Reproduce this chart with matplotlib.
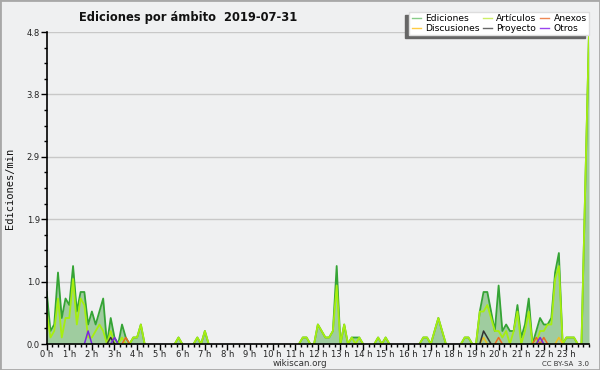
import numpy as np
import matplotlib
matplotlib.use("Agg")
import matplotlib.pyplot as plt
from matplotlib.lines import Line2D
from matplotlib.patches import Rectangle
from matplotlib.ticker import MultipleLocator, FixedLocator

# edits per minute, 10 minute steps from 00:00 to 24:00 (145 values, one row = 2 hours)
ediciones = [
    0.8, 0.2, 0.3, 1.1, 0.4, 0.7, 0.6, 1.2, 0.5, 0.8, 0.8, 0.3,
    0.5, 0.3, 0.5, 0.7, 0.0, 0.4, 0.1, 0.0, 0.3, 0.1, 0.0, 0.1,
    0.1, 0.3, 0.0, 0.0, 0.0, 0.0, 0.0, 0.0, 0.0, 0.0, 0.0, 0.1,
    0.0, 0.0, 0.0, 0.0, 0.1, 0.0, 0.2, 0.0, 0.0, 0.0, 0.0, 0.0,
    0.0, 0.0, 0.0, 0.0, 0.0, 0.0, 0.0, 0.0, 0.0, 0.0, 0.0, 0.0,
    0.0, 0.0, 0.0, 0.0, 0.0, 0.0, 0.0, 0.0, 0.1, 0.1, 0.0, 0.0,
    0.3, 0.2, 0.1, 0.1, 0.2, 1.2, 0.0, 0.3, 0.0, 0.1, 0.1, 0.1,
    0.0, 0.0, 0.0, 0.0, 0.1, 0.0, 0.1, 0.0, 0.0, 0.0, 0.0, 0.0,
    0.0, 0.0, 0.0, 0.0, 0.1, 0.1, 0.0, 0.2, 0.4, 0.2, 0.0, 0.0,
    0.0, 0.0, 0.0, 0.1, 0.1, 0.0, 0.0, 0.5, 0.8, 0.8, 0.5, 0.2,
    0.9, 0.2, 0.3, 0.2, 0.2, 0.6, 0.1, 0.3, 0.7, 0.0, 0.2, 0.4,
    0.3, 0.3, 0.4, 1.1, 1.4, 0.0, 0.1, 0.1, 0.1, 0.0, 0.0, 2.4,
    4.8,
]
articulos = [
    0.5, 0.1, 0.2, 0.7, 0.1, 0.4, 0.4, 1.0, 0.3, 0.7, 0.6, 0.1,
    0.1, 0.2, 0.3, 0.2, 0.0, 0.2, 0.0, 0.0, 0.1, 0.0, 0.0, 0.1,
    0.1, 0.3, 0.0, 0.0, 0.0, 0.0, 0.0, 0.0, 0.0, 0.0, 0.0, 0.1,
    0.0, 0.0, 0.0, 0.0, 0.1, 0.0, 0.2, 0.0, 0.0, 0.0, 0.0, 0.0,
    0.0, 0.0, 0.0, 0.0, 0.0, 0.0, 0.0, 0.0, 0.0, 0.0, 0.0, 0.0,
    0.0, 0.0, 0.0, 0.0, 0.0, 0.0, 0.0, 0.0, 0.1, 0.1, 0.0, 0.0,
    0.3, 0.2, 0.1, 0.1, 0.2, 0.9, 0.0, 0.3, 0.0, 0.1, 0.0, 0.1,
    0.0, 0.0, 0.0, 0.0, 0.1, 0.0, 0.1, 0.0, 0.0, 0.0, 0.0, 0.0,
    0.0, 0.0, 0.0, 0.0, 0.1, 0.1, 0.0, 0.2, 0.4, 0.2, 0.0, 0.0,
    0.0, 0.0, 0.0, 0.1, 0.1, 0.0, 0.0, 0.5, 0.5, 0.6, 0.4, 0.2,
    0.2, 0.1, 0.2, 0.0, 0.2, 0.5, 0.0, 0.2, 0.5, 0.0, 0.0, 0.2,
    0.2, 0.3, 0.3, 1.0, 1.2, 0.0, 0.1, 0.1, 0.1, 0.0, 0.0, 2.4,
    4.8,
]
# sparse series: index -> value
anexos_pts = {21: 0.1, 120: 0.1, 130: 0.1, 132: 0.1}
discusiones_pts = {116: 0.1, 136: 0.1}
proyecto_pts = {17: 0.1, 116: 0.2, 117: 0.1}
otros_pts = {11: 0.2, 18: 0.1, 131: 0.1}

hour_labels = ["%d h" % h for h in range(24)]
y_ticks = [0.0, 0.96, 1.92, 2.88, 3.84, 4.8]

n = len(ediciones)
hours = np.arange(n) / 6.0


def full(pts):
    v = np.zeros(n)
    for k, val in pts.items():
        v[k] = val
    return v


def visible(v):
    # hide long runs of zeros so lines do not sit on the axis
    v = np.asarray(v, float)
    nz = v > 0
    keep = nz.copy()
    keep[1:] |= nz[:-1]
    keep[:-1] |= nz[1:]
    return np.where(keep, v, np.nan)


bg = "#eff0f1"
fig = plt.figure(figsize=(6, 3.7), dpi=100, facecolor=bg)
ax = fig.add_axes([46.7 / 600, 26 / 370, (589 - 46.7) / 600, (344 - 32) / 370])
ax.set_facecolor(bg)

ax.fill_between(hours, ediciones, 0, color="#9fcc9f", lw=0, zorder=2)
ax.plot(hours, visible(ediciones), color="#35a435", lw=1.3, zorder=3)
ax.plot(hours, visible(articulos), color="#a6ee10", lw=1.3, zorder=4)
ax.plot(hours, visible(full(discusiones_pts)), color="#efbf1f", lw=1.1, zorder=5)
ax.plot(hours, visible(full(anexos_pts)), color="#ea6a22", lw=1.1, zorder=5)
ax.plot(hours, visible(full(proyecto_pts)), color="#333333", lw=1.1, zorder=5)
ax.plot(hours, visible(full(otros_pts)), color="#7a25e0", lw=1.1, zorder=5)

ax.set_xlim(0, 24)
ax.set_ylim(0, 4.8)

ax.yaxis.set_major_locator(FixedLocator(y_ticks))
ax.set_yticklabels(["%.1f" % t for t in y_ticks])
ax.yaxis.set_minor_locator(MultipleLocator(0.24))
ax.xaxis.set_major_locator(FixedLocator(range(24)))
ax.set_xticklabels(hour_labels)
ax.xaxis.set_minor_locator(MultipleLocator(0.25))
ax.grid(axis="y", color="#c8c8c8", lw=1, zorder=1)
ax.set_axisbelow(True)

ax.tick_params(axis="both", which="major", labelsize=6, colors="black",
               labelcolor="#222222", width=1, length=4, pad=1)
ax.tick_params(axis="x", which="major", pad=0.5)
ax.tick_params(axis="both", which="minor", width=1, length=2.5)
for s in ["top", "right"]:
    ax.spines[s].set_visible(False)
for s in ["left", "bottom"]:
    ax.spines[s].set_linewidth(1.2)
    ax.spines[s].set_zorder(6)

fig.text(10 / 600, 1 - 188 / 370, "Ediciones/min", rotation=90, ha="center", va="center",
         fontsize=7.5, family="DejaVu Sans Mono", color="#111111")
fig.text(188 / 600, 1 - 17 / 370, "Ediciones por ámbito  2019-07-31", ha="center", va="center",
         fontsize=8.3, fontweight="bold", color="#111111")
fig.text(300 / 600, 1 - 363 / 370, "wikiscan.org", ha="center", va="center",
         fontsize=6.3, color="#333333")
fig.text(589 / 600, 1 - 364 / 370, "CC BY-SA  3.0", ha="right", va="center",
         fontsize=5, color="#333333")

handles = [
    Line2D([], [], color="#88cc88", lw=1), Line2D([], [], color="#ffcc44", lw=1),
    Line2D([], [], color="#ccee66", lw=1), Line2D([], [], color="#666666", lw=1),
    Line2D([], [], color="#ee8855", lw=1), Line2D([], [], color="#9944ee", lw=1),
]
labels = ["Ediciones", "Discusiones", "Artículos", "Proyecto", "Anexos", "Otros"]
leg = fig.legend(handles, labels, ncol=3, loc="upper right",
                 bbox_to_anchor=(589 / 600, 1 - 12 / 370), fontsize=6.6,
                 frameon=True, fancybox=False, edgecolor="#dddddd", facecolor="white",
                 framealpha=1, borderpad=0.25, labelspacing=0.05, handlelength=1.0,
                 handletextpad=0.45, columnspacing=0.4, borderaxespad=0)
leg.set_zorder(10)
fig.canvas.draw()
bb = leg.get_window_extent()
W, H = fig.bbox.width, fig.bbox.height
fig.patches.append(Rectangle(((bb.x0 - 4) / W, (bb.y0 - 3) / H), bb.width / W, bb.height / H,
                             transform=fig.transFigure, color="#666666", zorder=9))
fig.patches.append(Rectangle((0, 0), 1, 1, transform=fig.transFigure, fill=False,
                             edgecolor="#a8a8a8", lw=2, zorder=20))

fig.savefig("out.png", dpi=100, facecolor=bg)
